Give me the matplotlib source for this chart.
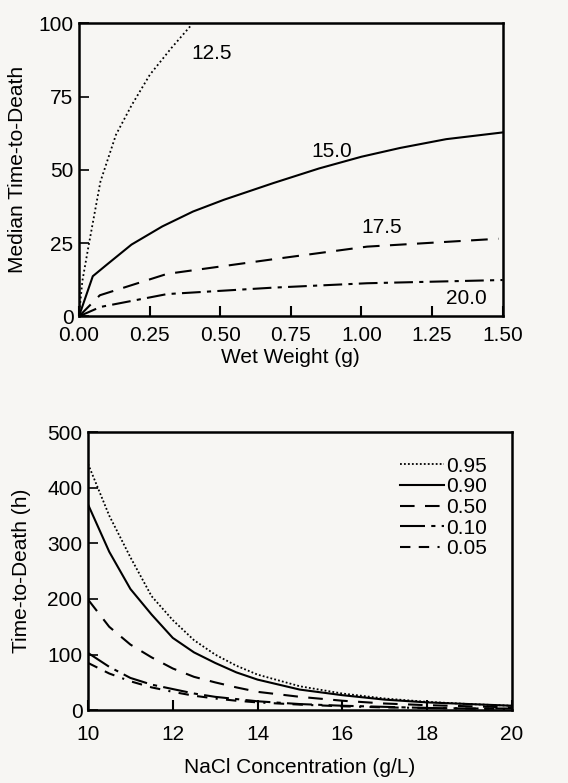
import numpy as np
import matplotlib
matplotlib.use("Agg")
import matplotlib.pyplot as plt

plt.rcParams['font.family'] = ['Liberation Sans', 'DejaVu Sans']
plt.rcParams['font.size'] = 15

# top panel: median time-to-death vs wet weight, one curve per NaCl level
ww_125 = [0.0, 0.012, 0.033, 0.076, 0.131, 0.186, 0.251, 0.327, 0.398]
ttd_125 = [0.0, 12, 23.5, 46, 62, 72, 82.5, 91.6, 99.5]
ww_150 = [0.0, 0.049, 0.098, 0.186, 0.295, 0.404, 0.513, 0.688, 0.85, 1.0, 1.137, 1.3, 1.5]
ttd_150 = [0.0, 13.7, 17.6, 24.5, 30.7, 35.8, 39.8, 45.5, 50.5, 54.5, 57.5, 60.5, 62.8]
ww_175 = [0.0, 0.074, 0.312, 0.688, 1.02, 1.485]
ttd_175 = [0.0, 7.2, 14.5, 19.5, 23.8, 26.5]
ww_200 = [0.0, 0.076, 0.312, 0.688, 1.02, 1.5]
ttd_200 = [0.0, 3.2, 7.6, 9.8, 11.3, 12.4]

# bottom panel: time-to-death quantiles vs NaCl concentration
nacl = [10, 10.5, 11, 11.5, 12, 12.5, 13, 13.5, 14, 15, 16, 17, 18, 19, 20]
q95 = [443, 350, 275, 205, 162, 126, 100, 80, 64, 43, 30, 21, 15, 11, 8]
q90 = [370, 285, 218, 172, 130, 104, 85, 68, 55, 37, 27, 19, 14, 11, 8]
q50 = [199, 150, 118, 95, 75, 60, 50, 41, 33, 24, 17, 12, 9, 7, 5]
q10 = [103, 78, 58, 46, 38, 30, 24, 20, 16, 11, 8, 6, 4, 3, 3]
q05 = [85, 66, 52, 41, 33, 26, 21, 17, 14, 10, 7, 5, 4, 3, 2]
q_labels = ['0.95', '0.90', '0.50', '0.10', '0.05']

bg = '#f7f6f3'
fig = plt.figure(figsize=(5.68, 7.83), dpi=100, facecolor=bg)

# ---- top panel
ax1 = fig.add_axes([0.139, 0.596, 0.746, 0.374], facecolor=bg)
ax1.plot(ww_125, ttd_125, color='k', lw=1.3, ls=(0, (1, 1.5)))
ax1.plot(ww_150, ttd_150, color='k', lw=1.5, ls='-')
ax1.plot(ww_175, ttd_175, color='k', lw=1.5, ls=(0, (8, 5)))
ax1.plot(ww_200, ttd_200, color='k', lw=1.5, ls=(0, (9, 3, 2, 3)))
ax1.text(0.47, 89.8, '12.5', ha='center', va='center')
ax1.text(0.896, 56.3, '15.0', ha='center', va='center')
ax1.text(1.07, 30.5, '17.5', ha='center', va='center')
ax1.text(1.37, 6.0, '20.0', ha='center', va='center')
ax1.set_xlim(0, 1.5)
ax1.set_ylim(0, 100)
ax1.set_xticks([0, 0.25, 0.5, 0.75, 1.0, 1.25, 1.5])
ax1.set_xticklabels(['0.00', '0.25', '0.50', '0.75', '1.00', '1.25', '1.50'])
ax1.set_yticks([0, 25, 50, 75, 100])
ax1.set_xlabel('Wet Weight (g)', labelpad=2)
ax1.set_ylabel('Median Time-to-Death', labelpad=8)

# ---- bottom panel
ax2 = fig.add_axes([0.155, 0.093, 0.746, 0.355], facecolor=bg)
styles = [(0, (1, 1.2)), '-', (0, (7, 5)), (0, (12, 3, 2, 3)), (0, (5, 4, 5, 4, 1, 4))]
for ys, lab, st in zip([q95, q90, q50, q10, q05], q_labels, styles):
    ax2.plot(nacl, ys, color='k', lw=1.5 if st != styles[0] else 1.3, ls=st, label=lab)
ax2.set_xlim(10, 20)
ax2.set_ylim(0, 500)
ax2.set_xticks([10, 12, 14, 16, 18, 20])
ax2.set_yticks([0, 100, 200, 300, 400, 500])
ax2.set_xlabel('NaCl Concentration (g/L)', labelpad=10)
ax2.set_ylabel('Time-to-Death (h)', labelpad=12)
ax2.legend(loc='upper right', bbox_to_anchor=(0.966, 0.95), frameon=False, fontsize=15,
           handlelength=2.1, handletextpad=0.1, labelspacing=0.08, borderpad=0)

for ax in (ax1, ax2):
    for s in ax.spines.values():
        s.set_linewidth(1.8)
    ax.tick_params(axis='y', direction='in', length=7, width=1.2, pad=4)
ax1.tick_params(axis='x', direction='in', length=7, width=1.5, pad=7)
ax2.tick_params(axis='x', direction='in', length=7, width=1.5, pad=11)

fig.savefig('out.png', dpi=100, facecolor=bg)
